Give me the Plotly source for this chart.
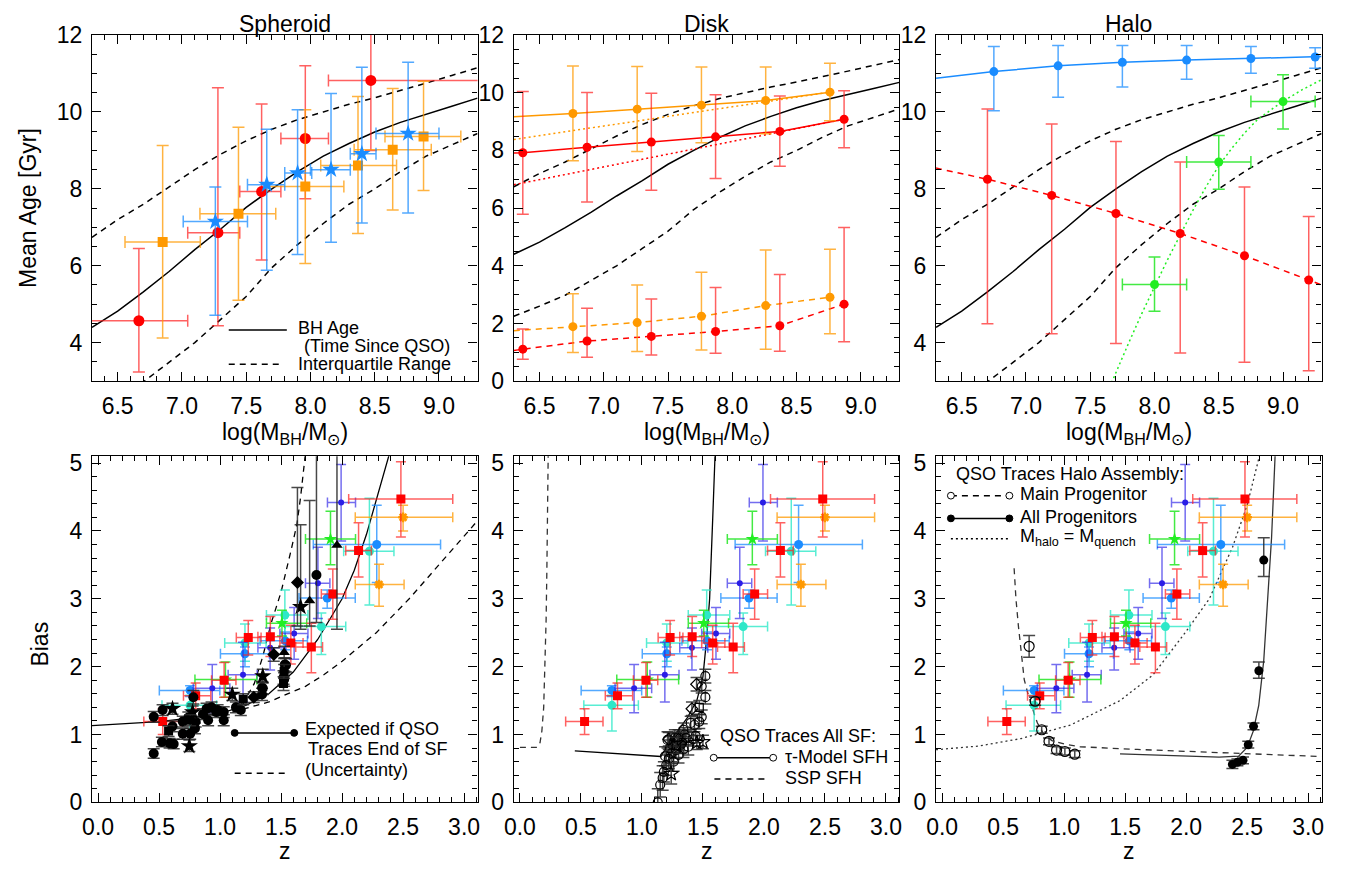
import plotly.graph_objects as go

W, H = 1356, 884
FONT = "Liberation Sans, Arial, Helvetica, sans-serif"

# ================= DATA =================
# --- top row: BH age curves (shared) ---
mbh_grid = [6.3, 6.5, 6.7, 6.9, 7.1, 7.3, 7.5, 7.7, 7.9, 8.1, 8.3, 8.5, 8.7, 8.9, 9.1, 9.3]
bh_age_med = [4.40, 4.82, 5.32, 5.85, 6.42, 6.95, 7.52, 8.00, 8.45, 8.85, 9.18, 9.48, 9.73, 9.95, 10.15, 10.36]
bh_age_hi = [6.74, 7.20, 7.60, 8.05, 8.50, 8.90, 9.25, 9.55, 9.80, 10.00, 10.20, 10.37, 10.55, 10.75, 10.95, 11.15]
bh_age_lo = [2.25, 2.60, 2.98, 3.50, 4.00, 4.60, 5.20, 5.95, 6.55, 7.10, 7.60, 8.00, 8.45, 8.85, 9.15, 9.44]

# --- Spheroid (top) ---
sph_red_x = [6.665, 7.28, 7.62, 7.96, 8.47]
sph_red_y = [4.57, 6.86, 7.93, 9.31, 10.82]
sph_red_xlo = [6.25, 7.045, 7.45, 7.77, 8.14]
sph_red_xhi = [7.045, 7.45, 7.77, 8.14, 9.40]
sph_red_ylo = [3.24, 4.44, 6.15, 7.74, 9.00]
sph_red_yhi = [6.45, 10.63, 10.21, 11.20, 12.60]

sph_org_x = [6.85, 7.44, 7.96, 8.37, 8.64, 8.88]
sph_org_y = [6.62, 7.35, 8.06, 8.61, 9.02, 9.36]
sph_org_xlo = [6.557, 7.14, 7.66, 8.08, 8.34, 8.58]
sph_org_xhi = [7.143, 7.73, 8.26, 8.67, 8.94, 9.17]
sph_org_ylo = [4.12, 5.10, 6.06, 6.84, 7.45, 7.96]
sph_org_yhi = [9.13, 9.60, 10.06, 10.40, 10.61, 10.80]

sph_blu_x = [7.26, 7.66, 7.90, 8.16, 8.40, 8.76]
sph_blu_y = [7.15, 8.11, 8.41, 8.50, 8.91, 9.44]
sph_blu_xlo = [7.01, 7.51, 7.80, 8.00, 8.31, 8.51]
sph_blu_xhi = [7.51, 7.80, 8.01, 8.31, 8.51, 9.00]
sph_blu_ylo = [4.71, 5.88, 6.29, 6.61, 7.11, 7.37]
sph_blu_yhi = [8.05, 9.55, 10.06, 10.48, 11.16, 11.29]

# --- Disk (top) ---
disk_org_x = [6.76, 7.26, 7.76, 8.26, 8.76]
disk_red_x = [6.37, 6.87, 7.37, 7.87, 8.37, 8.87]
disk_org_old_y = [9.28, 9.43, 9.57, 9.73, 10.02]
disk_org_old_lo = [7.64, 7.96, 8.27, 8.58, 9.03]
disk_org_old_hi = [10.93, 10.91, 10.89, 10.89, 11.02]
disk_org_old_edge = 9.17
disk_red_old_y = [7.92, 8.11, 8.29, 8.47, 8.66, 9.08]
disk_red_old_lo = [5.79, 6.21, 6.62, 7.03, 7.45, 8.09]
disk_red_old_hi = [10.04, 10.01, 9.98, 9.93, 9.89, 10.07]
disk_red_old_edge = 7.91
disk_org_yng_y = [1.89, 2.03, 2.25, 2.62, 2.91]
disk_org_yng_lo = [0.99, 1.03, 1.08, 1.11, 1.64]
disk_org_yng_hi = [3.03, 3.33, 3.78, 4.55, 4.57]
disk_org_yng_edge = 1.75
disk_red_yng_y = [1.11, 1.39, 1.55, 1.72, 1.92, 2.67]
disk_red_yng_lo = [0.76, 0.83, 0.91, 0.97, 1.04, 1.37]
disk_red_yng_hi = [1.81, 2.53, 2.85, 3.25, 3.70, 5.33]
disk_red_yng_edge = 1.06
disk_org_dot_x = [6.3, 8.76]
disk_org_dot_y = [8.38, 10.02]
disk_red_dot_x = [6.3, 8.87]
disk_red_dot_y = [6.81, 9.08]

# --- Halo (top) ---
halo_blu_x = [6.75, 7.25, 7.75, 8.25, 8.75, 9.25]
halo_blu_y = [11.05, 11.20, 11.29, 11.35, 11.39, 11.43]
halo_blu_lo = [10.03, 10.38, 10.65, 10.85, 11.01, 11.14]
halo_blu_hi = [11.70, 11.73, 11.73, 11.73, 11.70, 11.67]
halo_blu_edges = [10.88, 11.44]
halo_red_x = [6.70, 7.20, 7.70, 8.20, 8.70, 9.20]
halo_red_y = [8.25, 7.83, 7.36, 6.84, 6.26, 5.63]
halo_red_lo = [4.49, 4.23, 3.98, 3.73, 3.49, 3.27]
halo_red_hi = [10.08, 9.69, 9.23, 8.70, 8.05, 7.28]
halo_red_edges = [8.54, 5.50]
halo_grn_x = [8.0, 8.5, 9.0]
halo_grn_y = [5.51, 8.70, 10.27]
halo_grn_xlo = [7.75, 8.25, 8.75]
halo_grn_xhi = [8.25, 8.75, 9.25]
halo_grn_ylo = [4.82, 7.99, 9.56]
halo_grn_yhi = [6.23, 9.39, 10.97]
halo_grn_dot_x = [7.62, 7.67, 7.8, 7.9, 8.0, 8.1, 8.2, 8.3, 8.4, 8.5, 8.6, 8.7, 8.8, 8.9, 9.0, 9.15, 9.3]
halo_grn_dot_y = [2.6, 3.0, 4.0, 4.75, 5.45, 6.15, 6.8, 7.45, 8.05, 8.6, 9.05, 9.45, 9.8, 10.05, 10.28, 10.58, 10.84]

# --- bottom row: observed QSO clustering (shared) ---
obs_red_z = [0.53, 0.80, 1.033, 1.231, 1.412, 1.580, 1.748, 1.924, 2.135, 2.482]
obs_red_b = [1.19, 1.571, 1.80, 2.43, 2.44, 2.35, 2.29, 3.07, 3.71, 4.47]
obs_red_zlo = [0.375, 0.70, 0.93, 1.133, 1.31, 1.49, 1.62, 1.83, 2.03, 2.054]
obs_red_zhi = [0.681, 0.924, 1.13, 1.336, 1.51, 1.68, 1.84, 2.03, 2.24, 2.907]
obs_red_blo = [1.00, 1.38, 1.55, 2.17, 2.15, 2.04, 1.91, 2.70, 3.32, 3.91]
obs_red_bhi = [1.38, 1.76, 2.06, 2.68, 2.74, 2.61, 2.64, 3.44, 4.12, 5.02]

obs_cyn_z = [0.754, 1.204, 1.531, 1.83, 2.224]
obs_cyn_b = [1.43, 2.35, 2.76, 2.59, 3.70]
obs_cyn_zlo = [0.524, 1.038, 1.38, 1.53, 2.013]
obs_cyn_zhi = [0.971, 1.377, 1.72, 2.03, 2.425]
obs_cyn_blo = [1.05, 2.08, 2.38, 2.18, 2.91]
obs_cyn_bhi = [1.58, 2.63, 3.13, 2.79, 4.48]

obs_blu_z = [0.754, 1.204, 1.534, 1.878, 2.284]
obs_blu_b = [1.65, 2.19, 2.38, 3.01, 3.80]
obs_blu_zlo = [0.502, 1.003, 1.328, 1.647, 1.764]
obs_blu_zhi = [0.998, 1.404, 1.716, 2.108, 2.807]
obs_blu_blo = [1.56, 2.00, 2.25, 2.86, 3.24]
obs_blu_bhi = [1.72, 2.29, 2.51, 3.13, 4.38]

obs_dbl_z = [0.936, 1.188, 1.41, 1.607, 1.802, 1.992]
obs_dbl_b = [1.68, 1.88, 2.28, 2.49, 3.23, 4.42]
obs_dbl_zlo = [0.78, 1.066, 1.31, 1.49, 1.70, 1.88]
obs_dbl_zhi = [1.08, 1.304, 1.54, 1.72, 1.90, 2.11]
obs_dbl_blo = [1.32, 1.48, 1.95, 2.11, 2.71, 3.85]
obs_dbl_bhi = [2.03, 2.36, 2.57, 2.87, 3.76, 4.98]

obs_grn_z = [1.044, 1.507, 1.905]
obs_grn_b = [1.81, 2.64, 3.88]
obs_grn_zlo = [0.794, 1.38, 1.70]
obs_grn_zhi = [1.301, 1.71, 2.11]
obs_grn_blo = [1.55, 2.45, 3.50]
obs_grn_bhi = [2.07, 2.83, 4.29]

obs_org_z = [2.50, 2.303]
obs_org_b = [4.20, 3.21]
obs_org_zlo = [2.108, 2.108]
obs_org_zhi = [2.907, 2.508]
obs_org_blo = [4.00, 2.89]
obs_org_bhi = [4.38, 3.51]

# --- Spheroid (bottom): expected bias if QSO traces end of SF ---
sph_exp_z = [-0.05, 0.25, 0.5, 0.75, 1.0, 1.2, 1.4, 1.6, 1.8, 2.0, 2.1, 2.2, 2.3, 2.39]
sph_exp_b = [1.13, 1.16, 1.19, 1.24, 1.31, 1.42, 1.60, 1.92, 2.40, 3.00, 3.42, 3.95, 4.60, 5.15]
sph_exp_hi_z = [1.1, 1.2, 1.28, 1.35, 1.42, 1.5, 1.58, 1.63, 1.66, 1.70]
sph_exp_hi_b = [1.36, 1.50, 1.75, 2.15, 2.65, 3.10, 3.70, 4.10, 4.50, 5.15]
sph_exp_lo_z = [1.1, 1.25, 1.4, 1.58, 1.7, 1.85, 2.0, 2.12, 2.28, 2.55, 2.83, 3.11]
sph_exp_lo_b = [1.33, 1.40, 1.48, 1.62, 1.71, 1.88, 2.08, 2.26, 2.50, 3.00, 3.57, 4.15]

sph_circ_z = [0.456, 0.456, 0.529, 0.523, 0.586, 0.61, 0.694, 0.694, 0.74, 0.755, 0.781, 0.794, 0.80, 0.889, 0.902, 0.93, 0.97, 1.03, 1.03, 1.13, 1.17, 1.344, 1.344, 1.525, 1.54, 1.52, 1.53, 1.79, 1.35, 0.62, 0.86, 0.98]
sph_circ_b = [0.72, 1.26, 1.36, 0.89, 0.87, 1.12, 1.19, 1.01, 1.25, 1.01, 1.55, 1.09, 1.19, 1.38, 1.21, 1.40, 1.33, 1.21, 1.33, 1.40, 1.36, 1.59, 1.69, 1.81, 2.02, 1.84, 2.03, 3.35, 1.68, 0.86, 1.30, 1.36]
sph_circ_em = [0.07, 0.08, 0.08, 0.07, 0.07, 0.08, 0.08, 0.08, 0.08, 0.08, 0.10, 0.08, 0.08, 0.08, 0.08, 0.08, 0.08, 0.08, 0.08, 0.08, 0.08, 0.09, 0.09, 0.10, 0.10, 0.10, 0.10, 0.70, 0.09, 0.07, 0.08, 0.08]
sph_circ_ep = [0.07, 0.08, 0.08, 0.07, 0.07, 0.08, 0.08, 0.08, 0.08, 0.08, 0.10, 0.08, 0.08, 0.08, 0.08, 0.08, 0.08, 0.08, 0.08, 0.08, 0.08, 0.09, 0.09, 0.10, 0.10, 0.10, 0.10, 2.50, 0.09, 0.07, 0.08, 0.08]
sph_star_z = [0.61, 0.748, 0.775, 1.10, 1.35, 1.66]
sph_star_b = [1.38, 0.83, 1.33, 1.59, 1.86, 2.88]
sph_star_em = [0.08, 0.08, 0.08, 0.09, 0.10, 0.33]
sph_star_ep = [0.08, 0.09, 0.09, 0.09, 0.10, 1.21]
sph_sq_z = [0.578, 0.755, 1.19, 1.525, 1.52]
sph_sq_b = [1.05, 1.21, 1.52, 1.93, 1.75]
sph_sq_em = [0.08, 0.08, 0.08, 0.10, 0.10]
sph_sq_ep = [0.08, 0.08, 0.08, 0.10, 0.10]
sph_dia_z = [1.276, 1.44, 1.634]
sph_dia_b = [1.55, 2.18, 3.24]
sph_dia_em = [0.08, 0.10, 0.64]
sph_dia_ep = [0.08, 0.10, 1.40]
sph_tri_z = [1.525, 1.734, 1.958]
sph_tri_b = [2.21, 2.97, 3.79]
sph_tri_em = [0.09, 0.37, 1.24]
sph_tri_ep = [0.09, 1.48, 1.80]

# --- Disk (bottom): QSO traces all SF ---
disk_tau_z = [0.45, 0.8, 1.155, 1.25, 1.37, 1.45, 1.50, 1.53, 1.555, 1.58, 1.60]
disk_tau_b = [0.76, 0.72, 0.676, 0.95, 1.24, 1.50, 1.85, 2.40, 3.00, 4.17, 5.15]
disk_ssp_z = [0.0, 0.14, 0.165, 0.18, 0.195, 0.207, 0.215, 0.221, 0.229, 0.232]
disk_ssp_b = [0.81, 0.81, 0.88, 1.05, 1.40, 2.00, 2.70, 3.43, 4.60, 5.15]
disk_circ_z = [1.52, 1.49, 1.52, 1.49, 1.47, 1.43, 1.40, 1.34, 1.30, 1.36, 1.42, 1.26, 1.32, 1.38, 1.28, 1.24, 1.30, 1.22, 1.26, 1.20, 1.18, 1.17, 1.15, 1.13, 1.34, 1.25, 1.44, 1.35, 1.21, 1.27, 1.33, 1.23, 1.19]
disk_circ_b = [1.86, 1.71, 1.55, 1.26, 1.19, 1.14, 1.17, 1.07, 0.97, 0.95, 0.93, 0.90, 0.85, 0.82, 0.77, 0.72, 0.70, 0.64, 0.60, 0.55, 0.45, 0.36, 0.26, 0.00, 0.78, 0.85, 0.98, 1.00, 0.92, 0.95, 0.88, 0.80, 0.68]
disk_circ_e = [0.10, 0.10, 0.10, 0.10, 0.10, 0.10, 0.10, 0.10, 0.10, 0.10, 0.10, 0.12, 0.12, 0.12, 0.12, 0.12, 0.12, 0.14, 0.14, 0.15, 0.15, 0.18, 0.18, 0.20, 0.12, 0.12, 0.10, 0.10, 0.12, 0.12, 0.12, 0.12, 0.14]
disk_dia_z = [1.448, 1.41, 1.22, 1.30]
disk_dia_b = [1.74, 1.38, 0.93, 0.93]
disk_dia_e = [0.10, 0.10, 0.10, 0.10]
disk_sq_z = [1.47, 1.28]
disk_sq_b = [1.40, 0.84]
disk_sq_e = [0.10, 0.12]
disk_star_z = [1.50, 1.24, 1.45]
disk_star_b = [0.89, 0.42, 0.88]
disk_star_e = [0.10, 0.15, 0.10]

# --- Halo (bottom): QSO traces halo assembly ---
halo_main_z = [0.59, 0.605, 0.625, 0.646, 0.673, 0.70, 0.727, 0.755, 0.781, 0.835, 0.9, 1.0, 1.13, 1.6, 2.0, 2.5, 3.11]
halo_main_b = [3.45, 3.00, 2.60, 2.24, 1.81, 1.62, 1.48, 1.30, 1.17, 1.00, 0.91, 0.86, 0.82, 0.78, 0.75, 0.71, 0.675]
halo_all_z = [1.458, 1.9, 2.27, 2.43, 2.50, 2.55, 2.595, 2.636, 2.663, 2.70, 2.73]
halo_all_b = [0.714, 0.69, 0.666, 0.68, 0.81, 1.05, 1.43, 2.09, 2.81, 3.90, 5.15]
halo_quench_z = [-0.05, 0.3, 0.646, 1.052, 1.458, 1.729, 2.0, 2.19, 2.38, 2.50, 2.60]
halo_quench_b = [0.776, 0.83, 0.94, 1.14, 1.50, 1.88, 2.52, 3.00, 3.76, 4.38, 5.10]
halo_mp_z = [0.713, 0.762, 0.816, 0.876, 0.938, 1.006, 1.087]
halo_mp_b = [2.30, 1.49, 1.07, 0.90, 0.77, 0.75, 0.71]
halo_mp_e = [0.16, 0.06, 0.05, 0.05, 0.05, 0.05, 0.05]
halo_ap_z = [2.379, 2.42, 2.466, 2.509, 2.552, 2.596, 2.636]
halo_ap_b = [0.56, 0.59, 0.62, 0.85, 1.12, 1.94, 3.57]
halo_ap_em = [0.06, 0.05, 0.05, 0.05, 0.05, 0.11, 0.24]
halo_ap_ep = [0.06, 0.05, 0.05, 0.05, 0.05, 0.13, 0.33]

panel_titles = ["Spheroid", "Disk", "Halo"]

# ================= FIGURE =================
COLS = [(82.7, 471.7), (508.3, 897.3), (934.3, 1323.3)]
ROWS = [(22.7, 379.3), (456.7, 813.3)]

RED = "#ff0000"; REDB = "rgba(255,30,30,0.7)"
ORG = "#ff9900"; ORGB = "rgba(255,153,0,0.75)"
BLU = "#1a8cff"; BLUB = "rgba(26,140,255,0.75)"
GRN = "#22ee22"; GRNB = "rgba(34,230,34,0.85)"
CYN = "#2ee8c8"; CYNB = "rgba(46,232,200,0.8)"
DBL = "#2a1ee6"; DBLB = "rgba(42,30,230,0.65)"
BLKB = "rgba(40,40,40,0.85)"

fig = go.Figure()


def ref(i):
    return ("x" if i == 0 else f"x{i+1}"), ("y" if i == 0 else f"y{i+1}")


def line(i, x, y, color, width=1.5, dash="solid"):
    xr, yr = ref(i)
    fig.add_trace(go.Scatter(x=x, y=y, xaxis=xr, yaxis=yr, mode="lines",
                             line=dict(color=color, width=width, dash=dash),
                             showlegend=False, hoverinfo="skip"))


def pts(i, x, y, color, symbol, size, bar, xlo=None, xhi=None, ylo=None, yhi=None,
        em=None, ep=None, cap=5, thick=1.5, mline=None):
    xr, yr = ref(i)
    ex = ey = None
    if xlo is not None:
        ex = dict(type="data", symmetric=False,
                  array=[h - v for h, v in zip(xhi, x)],
                  arrayminus=[v - l for l, v in zip(xlo, x)],
                  color=bar, thickness=thick, width=cap)
    if ylo is not None:
        ey = dict(type="data", symmetric=False,
                  array=[h - v for h, v in zip(yhi, y)],
                  arrayminus=[v - l for l, v in zip(ylo, y)],
                  color=bar, thickness=thick, width=cap)
    elif em is not None:
        ey = dict(type="data", symmetric=False, array=ep, arrayminus=em,
                  color=bar, thickness=thick, width=cap)
    fig.add_trace(go.Scatter(x=x, y=y, xaxis=xr, yaxis=yr, mode="markers",
                             marker=dict(symbol=symbol, size=size, color=color,
                                         line=mline if mline else dict(width=0)),
                             error_x=ex, error_y=ey, showlegend=False, hoverinfo="skip"))


# ---- top row: BH age curves ----
for i in range(3):
    line(i, mbh_grid, bh_age_med, "black", 1.5)
    line(i, mbh_grid, bh_age_hi, "black", 1.5, "6px,5px")
    line(i, mbh_grid, bh_age_lo, "black", 1.5, "6px,5px")

# Spheroid top
pts(0, sph_red_x, sph_red_y, RED, "circle", 11, REDB, sph_red_xlo, sph_red_xhi, sph_red_ylo, sph_red_yhi, cap=6)
pts(0, sph_org_x, sph_org_y, ORG, "square", 10, ORGB, sph_org_xlo, sph_org_xhi, sph_org_ylo, sph_org_yhi, cap=6)
pts(0, sph_blu_x, sph_blu_y, BLU, "star", 13, BLUB, sph_blu_xlo, sph_blu_xhi, sph_blu_ylo, sph_blu_yhi, cap=6)

# Disk top
line(1, disk_org_dot_x, disk_org_dot_y, ORG, 1.5, "2px,3px")
line(1, disk_red_dot_x, disk_red_dot_y, RED, 1.5, "2px,3px")
line(1, [mbh_grid[0]] + disk_org_x, [disk_org_old_edge] + disk_org_old_y, ORG, 1.5)
line(1, [mbh_grid[0]] + disk_red_x, [disk_red_old_edge] + disk_red_old_y, RED, 1.5)
line(1, [mbh_grid[0]] + disk_org_x, [disk_org_yng_edge] + disk_org_yng_y, ORG, 1.5, "6px,5px")
line(1, [mbh_grid[0]] + disk_red_x, [disk_red_yng_edge] + disk_red_yng_y, RED, 1.5, "6px,5px")
pts(1, disk_org_x, disk_org_old_y, ORG, "circle", 9, ORGB, ylo=disk_org_old_lo, yhi=disk_org_old_hi, cap=6)
pts(1, disk_red_x, disk_red_old_y, RED, "circle", 9, REDB, ylo=disk_red_old_lo, yhi=disk_red_old_hi, cap=6)
pts(1, disk_org_x, disk_org_yng_y, ORG, "circle", 9, ORGB, ylo=disk_org_yng_lo, yhi=disk_org_yng_hi, cap=6)
pts(1, disk_red_x, disk_red_yng_y, RED, "circle", 9, REDB, ylo=disk_red_yng_lo, yhi=disk_red_yng_hi, cap=6)

# Halo top
line(2, [mbh_grid[0]] + halo_blu_x + [mbh_grid[-1]], [halo_blu_edges[0]] + halo_blu_y + [halo_blu_edges[1]], BLU, 1.5)
line(2, [mbh_grid[0]] + halo_red_x + [mbh_grid[-1]], [halo_red_edges[0]] + halo_red_y + [halo_red_edges[1]], RED, 1.5, "6px,5px")
line(2, halo_grn_dot_x, halo_grn_dot_y, GRN, 1.5, "2px,3px")
pts(2, halo_blu_x, halo_blu_y, BLU, "circle", 9, BLUB, ylo=halo_blu_lo, yhi=halo_blu_hi, cap=6)
pts(2, halo_red_x, halo_red_y, RED, "circle", 9, REDB, ylo=halo_red_lo, yhi=halo_red_hi, cap=6)
pts(2, halo_grn_x, halo_grn_y, GRN, "circle", 9, GRNB, halo_grn_xlo, halo_grn_xhi, halo_grn_ylo, halo_grn_yhi, cap=6)

# ---- bottom row ----
line(3, sph_exp_z, sph_exp_b, "black", 1.3)
line(3, sph_exp_hi_z, sph_exp_hi_b, "black", 1.3, "6px,5px")
line(3, sph_exp_lo_z, sph_exp_lo_b, "black", 1.3, "6px,5px")
line(4, disk_tau_z, disk_tau_b, "black", 1.3)
line(4, disk_ssp_z, disk_ssp_b, "#333333", 1.3, "6px,5px")
line(5, halo_main_z, halo_main_b, "#333333", 1.3, "6px,5px")
line(5, halo_all_z, halo_all_b, "#333333", 1.3)
line(5, halo_quench_z, halo_quench_b, "#333333", 1.3, "2px,3px")

OPEN = dict(color="black", width=1.2)
for i in (3, 4, 5):
    pts(i, obs_cyn_z, obs_cyn_b, CYN, "circle", 9, CYNB, obs_cyn_zlo, obs_cyn_zhi, obs_cyn_blo, obs_cyn_bhi)
    pts(i, obs_blu_z, obs_blu_b, BLU, "circle", 9, BLUB, obs_blu_zlo, obs_blu_zhi, obs_blu_blo, obs_blu_bhi)
    pts(i, obs_dbl_z, obs_dbl_b, DBL, "circle", 6, DBLB, obs_dbl_zlo, obs_dbl_zhi, obs_dbl_blo, obs_dbl_bhi)
    pts(i, obs_grn_z, obs_grn_b, GRN, "star", 10, GRNB, obs_grn_zlo, obs_grn_zhi, obs_grn_blo, obs_grn_bhi)
    pts(i, obs_org_z, obs_org_b, ORG, "asterisk-open", 8, ORGB, obs_org_zlo, obs_org_zhi, obs_org_blo, obs_org_bhi,
        mline=dict(color=ORG, width=2.5))
    pts(i, obs_red_z, obs_red_b, RED, "square", 9, REDB, obs_red_zlo, obs_red_zhi, obs_red_blo, obs_red_bhi)

# Spheroid bottom black points
pts(3, sph_circ_z, sph_circ_b, "black", "circle", 10, BLKB, em=sph_circ_em, ep=sph_circ_ep, cap=6)
pts(3, sph_star_z, sph_star_b, "black", "star", 13, BLKB, em=sph_star_em, ep=sph_star_ep, cap=6)
pts(3, sph_sq_z, sph_sq_b, "black", "square", 9, BLKB, em=sph_sq_em, ep=sph_sq_ep, cap=6)
pts(3, sph_dia_z, sph_dia_b, "black", "diamond", 10, BLKB, em=sph_dia_em, ep=sph_dia_ep, cap=6)
pts(3, sph_tri_z, sph_tri_b, "black", "triangle-up", 10, BLKB, em=sph_tri_em, ep=sph_tri_ep, cap=6)

# Disk bottom black points (open)
pts(4, disk_circ_z, disk_circ_b, "black", "circle-open", 9, BLKB, em=disk_circ_e, ep=disk_circ_e, cap=6, mline=OPEN)
pts(4, disk_dia_z, disk_dia_b, "black", "diamond-open", 9, BLKB, em=disk_dia_e, ep=disk_dia_e, cap=6, mline=OPEN)
pts(4, disk_sq_z, disk_sq_b, "black", "square-open", 8, BLKB, em=disk_sq_e, ep=disk_sq_e, cap=6, mline=OPEN)
pts(4, disk_star_z, disk_star_b, "black", "star-open", 11, BLKB, em=disk_star_e, ep=disk_star_e, cap=6, mline=OPEN)

# Halo bottom black points
pts(5, halo_mp_z, halo_mp_b, "black", "circle-open", 10, BLKB, em=halo_mp_e, ep=halo_mp_e, cap=6, mline=OPEN)
pts(5, halo_ap_z, halo_ap_b, "black", "circle", 9, BLKB, em=halo_ap_em, ep=halo_ap_ep, cap=6)

# ================= AXES =================
def fx(x):
    return x / W


def fy(y):
    return 1 - y / H


layout = dict(width=W, height=H, margin=dict(l=0, r=0, t=0, b=0),
              paper_bgcolor="white", plot_bgcolor="white",
              font=dict(family=FONT, size=23, color="black"), showlegend=False)

for i in range(6):
    r, c = divmod(i, 3)
    xk = "xaxis" if i == 0 else f"xaxis{i+1}"
    yk = "yaxis" if i == 0 else f"yaxis{i+1}"
    xr, yr = ref(i)
    common = dict(showline=True, linecolor="black", linewidth=1.2, mirror="allticks",
                  ticks="inside", ticklen=9, tickwidth=1, tickcolor="black",
                  showgrid=False, zeroline=False, tickfont=dict(size=23, family=FONT, color="black"))
    if r == 0:
        xa = dict(range=[6.3, 9.3], dtick=0.5, tick0=6.5, tickformat=".1f",
                  minor=dict(dtick=0.1, tick0=6.3, ticks="inside", ticklen=5, tickcolor="black"))
        ya = dict(range=[0, 12.001] if c == 1 else [2.999, 12.001], dtick=2, tick0=0,
                  minor=dict(dtick=0.5, tick0=0, ticks="inside", ticklen=5, tickcolor="black"))
    else:
        xa = dict(range=[-0.05, 3.11], dtick=0.5, tick0=0, tickformat=".1f",
                  minor=dict(dtick=0.1, tick0=0, ticks="inside", ticklen=5, tickcolor="black"))
        ya = dict(range=[0, 5.1], dtick=1, tick0=0,
                  minor=dict(dtick=0.2, tick0=0, ticks="inside", ticklen=5, tickcolor="black"))
    xa.update(common)
    ya.update(common)
    xa.update(domain=[fx(COLS[c][0]), fx(COLS[c][1])], anchor=yr, ticklabelstandoff=4)
    ya.update(domain=[fy(ROWS[r][1]), fy(ROWS[r][0])], anchor=xr, ticklabelstandoff=4)
    layout[xk] = xa
    layout[yk] = ya

fig.update_layout(**layout)

ann = []
shapes = []
for c in range(3):
    cx = (COLS[c][0] + COLS[c][1]) / 2
    ann.append(dict(text=panel_titles[c], x=fx(cx), y=fy(11), xref="paper", yref="paper",
                    showarrow=False, font=dict(size=23, family=FONT, color="black"),
                    xanchor="center", yanchor="middle"))
    ann.append(dict(text="log(M<sub>BH</sub>/M<sub>\u2299</sub>)", x=fx(cx), y=fy(433), xref="paper",
                    yref="paper", showarrow=False, font=dict(size=23, family=FONT, color="black"),
                    xanchor="center", yanchor="middle"))
    ann.append(dict(text="z", x=fx(cx), y=fy(863), xref="paper", yref="paper",
                    showarrow=False, font=dict(size=23, family=FONT, color="black"),
                    xanchor="center", yanchor="middle"))
ann.append(dict(text="Mean Age [Gyr]", x=fx(18), y=fy(201), xref="paper", yref="paper", textangle=-90,
                showarrow=False, font=dict(size=23, family=FONT, color="black"),
                xanchor="center", yanchor="middle"))
ann.append(dict(text="Bias", x=fx(30), y=fy(650), xref="paper", yref="paper", textangle=-90,
                showarrow=False, font=dict(size=23, family=FONT, color="black"),
                xanchor="center", yanchor="middle"))


def txt(s, x, y, size=18):
    ann.append(dict(text=s, x=fx(x), y=fy(y), xref="paper", yref="paper", showarrow=False,
                    font=dict(size=size, family=FONT, color="black"), xanchor="left", yanchor="middle"))


def seg(x0, x1, y, dash="solid", width=1.5):
    shapes.append(dict(type="line", xref="paper", yref="paper", x0=fx(x0), x1=fx(x1), y0=fy(y), y1=fy(y),
                       line=dict(color="black", width=width, dash=dash)))


def dot(x, y, r=3.5, filled=True):
    shapes.append(dict(type="circle", xref="paper", yref="paper", x0=fx(x - r), x1=fx(x + r),
                       y0=fy(y + r), y1=fy(y - r), line=dict(color="black", width=1),
                       fillcolor="black" if filled else "white"))


# Spheroid top legend
seg(220.7, 279.3, 326.7)
txt("BH Age", 289, 325)
txt("(Time Since QSO)", 295, 343.5)
seg(220.7, 273, 362, "6px,5px")
txt("Interquartile Range", 289, 362)

# Spheroid bottom legend
seg(226.7, 286.7, 741.7)
dot(226.7, 741.7)
dot(286.7, 741.7)
txt("Expected if QSO", 296, 738)
txt("Traces End of SF", 299, 758.5)
txt("(Uncertainty)", 296, 780)
seg(226.7, 279.3, 783.3, "6px,5px")

# Disk bottom legend
txt("QSO Traces All SF:", 714, 745)
seg(710, 770, 767.3)
dot(710, 767.3, filled=False)
dot(770, 767.3, filled=False)
txt("\u03c4-Model SFH", 780, 766.5)
seg(710.7, 763.3, 789.3, "6px,5px")
txt("SSP SFH", 780, 788.5)

# Halo bottom legend
txt("QSO Traces Halo Assembly:", 952, 475)
seg(949.3, 1008.3, 497.3, "6px,5px")
dot(949.3, 497.3, filled=False)
dot(1008.3, 497.3, filled=False)
txt("Main Progenitor", 1017, 496)
seg(949.3, 1008.3, 520.7)
dot(949.3, 520.7)
dot(1008.3, 520.7)
txt("All Progenitors", 1017, 519)
seg(949.3, 1008.3, 541.7, "2px,3px")
txt("M<sub>halo</sub> = M<sub>quench</sub>", 1017, 540)

fig.update_layout(annotations=ann, shapes=shapes)
fig.write_html("out.html", config={"displayModeBar": False},
               post_script="document.body.style.margin='0';document.body.style.overflow='hidden';")
